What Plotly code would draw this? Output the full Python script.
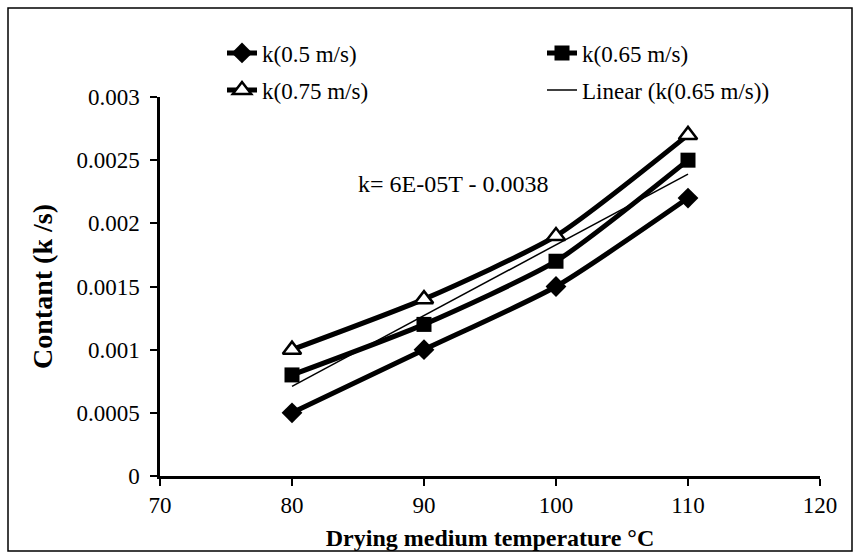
import numpy as np
import plotly.graph_objects as go

# Data
temperature = [80, 90, 100, 110]
k_05 = [0.0005, 0.0010, 0.0015, 0.0022]
k_065 = [0.0008, 0.0012, 0.0017, 0.0025]
k_075 = [0.0010, 0.0014, 0.0019, 0.0027]
x_ticks = [70, 80, 90, 100, 110, 120]
y_ticks = [0, 0.0005, 0.001, 0.0015, 0.002, 0.0025, 0.003]
y_tick_labels = ["0", "0.0005", "0.001", "0.0015", "0.002", "0.0025", "0.003"]

# Linear trendline of k(0.65 m/s)
slope, intercept = np.polyfit(temperature, k_065, 1)
trend_x = [temperature[0], temperature[-1]]
trend_y = [slope * t + intercept for t in trend_x]
eq_text = ("k= %.0E" % slope) + "T - %.4f" % abs(intercept)

W, H = 857, 553
L, R, T, B = 160, 37, 97, 77
FONT = "Liberation Serif"

fig = go.Figure()
line_w = 5
fig.add_trace(go.Scatter(
    x=temperature, y=k_05, name="k(0.5 m/s)", mode="lines+markers",
    line=dict(color="black", width=line_w, shape="spline", smoothing=0.6),
    marker=dict(symbol="diamond", size=16, color="black"),
    legend="legend"))
fig.add_trace(go.Scatter(
    x=temperature, y=k_065, name="k(0.65 m/s)", mode="lines+markers",
    line=dict(color="black", width=line_w, shape="spline", smoothing=0.6),
    marker=dict(symbol="square", size=15, color="black"),
    legend="legend2"))
fig.add_trace(go.Scatter(
    x=temperature, y=k_075, name="k(0.75 m/s)", mode="lines+markers",
    line=dict(color="black", width=line_w, shape="spline", smoothing=0.6),
    marker=dict(symbol="triangle-up", size=16, color="white",
                line=dict(color="black", width=2.5)),
    legend="legend3"))
fig.add_trace(go.Scatter(
    x=trend_x, y=trend_y, name="Linear (k(0.65 m/s))", mode="lines",
    line=dict(color="black", width=1.5),
    legend="legend4"))

pw = W - L - R
ph = H - T - B
def px_x(p):
    return (p - L) / pw
def px_y(p):
    return (H - B - p) / ph

legend_common = dict(
    orientation="h", xanchor="left", yanchor="middle",
    font=dict(family=FONT, size=23, color="black"),
    bgcolor="rgba(0,0,0,0)", itemwidth=30,
)

fig.update_layout(
    width=W, height=H,
    margin=dict(l=L, r=R, t=T, b=B),
    paper_bgcolor="white", plot_bgcolor="white",
    font=dict(family=FONT, size=23, color="black"),
    showlegend=True,
    legend=dict(x=px_x(222), y=px_y(53), **legend_common),
    legend2=dict(x=px_x(542), y=px_y(53), **legend_common),
    legend3=dict(x=px_x(222), y=px_y(90), **legend_common),
    legend4=dict(x=px_x(542), y=px_y(90), **legend_common),
    xaxis=dict(
        range=[70, 120], tickvals=x_ticks, ticktext=[str(v) for v in x_ticks],
        showline=True, linecolor="black", linewidth=2.5,
        ticks="outside", ticklen=7, tickwidth=2, tickcolor="black",
        showgrid=False, zeroline=False, automargin=False,
        tickfont=dict(family=FONT, size=23),
        title=dict(text="<b>Drying medium temperature °C</b>",
                   font=dict(family=FONT, size=24), standoff=12),
    ),
    yaxis=dict(
        range=[0, 0.003], tickvals=y_ticks, ticktext=y_tick_labels,
        showline=True, linecolor="black", linewidth=2.5,
        ticks="outside", ticklen=7, tickwidth=2, tickcolor="black",
        ticklabelstandoff=6, automargin=False,
        showgrid=False, zeroline=False,
        tickfont=dict(family=FONT, size=23),
        title=dict(text="<b>Contant (k /s)</b>",
                   font=dict(family=FONT, size=28), standoff=16),
    ),
)

fig.add_annotation(
    x=92.2, y=0.00231, xref="x", yref="y", text=eq_text, showarrow=False,
    font=dict(family=FONT, size=24, color="black"),
)

# Outer frame
fig.add_shape(type="rect", xref="paper", yref="paper",
              x0=px_x(8), x1=px_x(852), y0=px_y(551), y1=px_y(8),
              line=dict(color="black", width=1.5), layer="below")

fig.write_html("out.html")
